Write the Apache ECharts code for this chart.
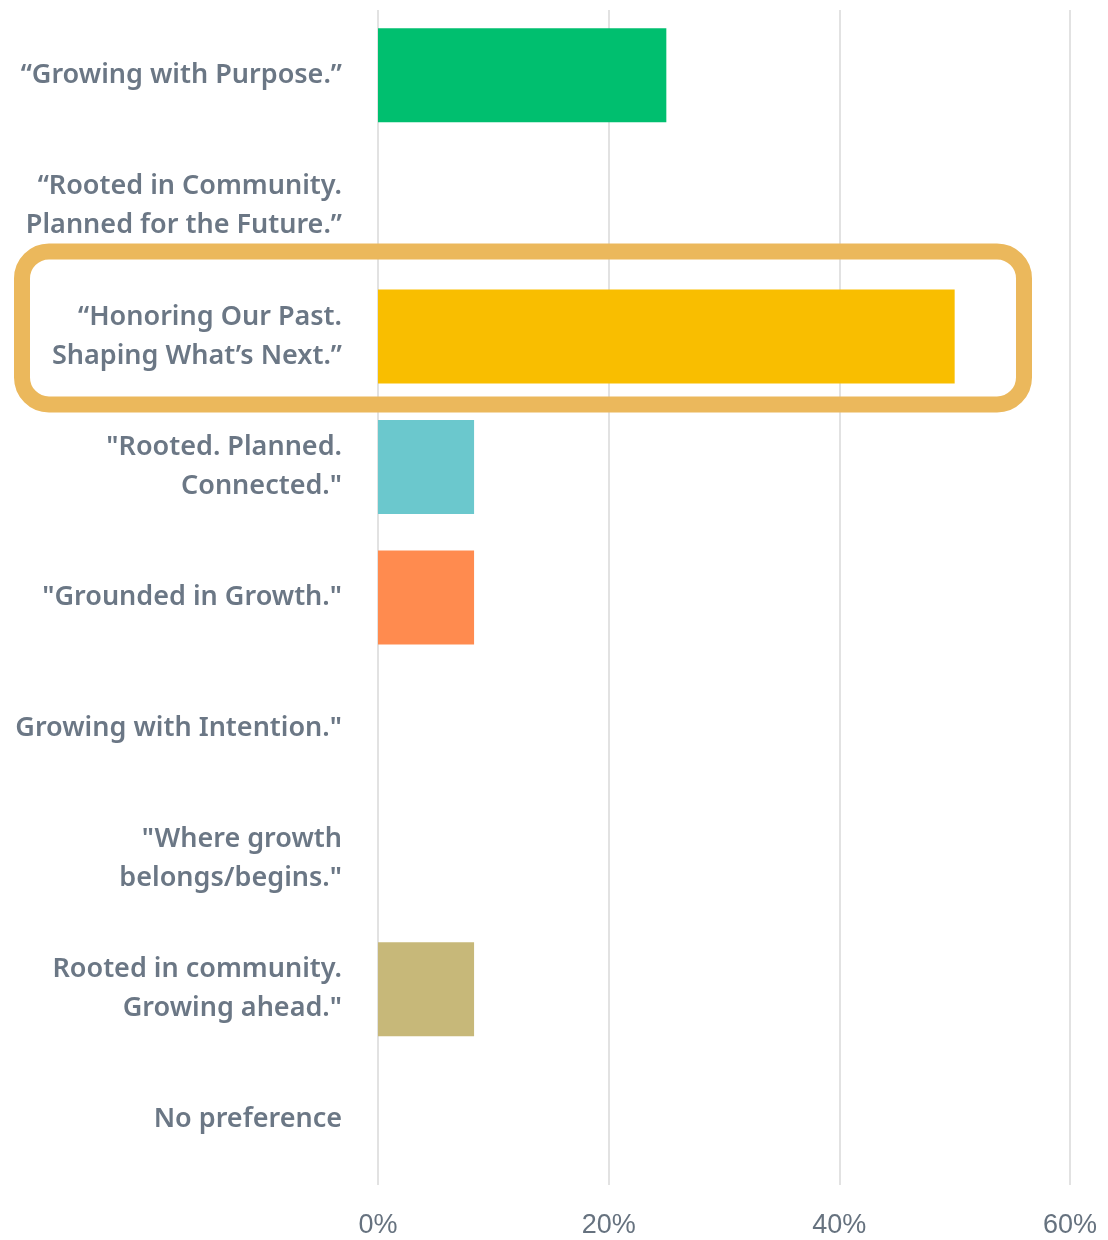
<!DOCTYPE html>
<html><head><meta charset="utf-8">
<script src="https://cdn.jsdelivr.net/npm/echarts@6/dist/echarts.min.js"></script>
<style>html,body{margin:0;padding:0;background:#fff}#c{width:1108px;height:1240px}</style>
</head><body><div id="c"></div>
<script>
const categories = [
  '\u201cGrowing with Purpose.\u201d',
  '\u201cRooted in Community.\nPlanned for the Future.\u201d',
  '\u201cHonoring Our Past.\nShaping What\u2019s Next.\u201d',
  '"Rooted. Planned.\nConnected."',
  '"Grounded in Growth."',
  'Growing with Intention."',
  '"Where growth\nbelongs/begins."',
  'Rooted in community.\nGrowing ahead."',
  'No preference'
];
const values = [25, 0, 50, 8.33, 8.33, 0, 0, 8.33, 0];
const barColors = ['#00BF6F', '#00BF6F', '#F9BE00', '#6BC8CD', '#FF8B4F', '#FF8B4F', '#FF8B4F', '#C7B879', '#C7B879'];
const xTicks = [0, 20, 40, 60];
const highlightIndex = 2;

const chart = echarts.init(document.getElementById('c'));
const option = {
  animation: false,
  grid: { left: 378, right: 38, top: 10, bottom: 55, containLabel: false },
  xAxis: {
    type: 'value', min: xTicks[0], max: xTicks[xTicks.length - 1], interval: 20,
    axisLine: { show: false }, axisTick: { show: false },
    splitLine: { show: true, lineStyle: { color: '#e2e2e2', width: 2 } },
    axisLabel: { formatter: '{value}%', color: '#66727f', fontFamily: 'Liberation Sans', fontSize: 27, margin: 27 }
  },
  yAxis: {
    type: 'category', data: categories, inverse: true,
    axisLine: { show: false }, axisTick: { show: false },
    axisLabel: { color: '#6b7785', fontFamily: 'Noto Sans', fontWeight: 600, fontSize: 27, lineHeight: 39, margin: 36, align: 'right' }
  },
  series: [{
    type: 'bar', barCategoryGap: '28%',
    data: values.map((v, i) => ({ value: v, itemStyle: { color: barColors[i] } }))
  }]
};
chart.setOption(option);

const cy = chart.convertToPixel({ yAxisIndex: 0 }, highlightIndex);
const xr = chart.convertToPixel({ xAxisIndex: 0 }, xTicks[xTicks.length - 1]);
chart.setOption({
  graphic: [{
    type: 'rect', z: 100,
    shape: { x: 22, y: cy - 85, width: xr - 46 - 22, height: 153, r: 27 },
    style: { fill: 'none', stroke: '#EBB85C', lineWidth: 16 }
  }]
});
</script></body></html>
